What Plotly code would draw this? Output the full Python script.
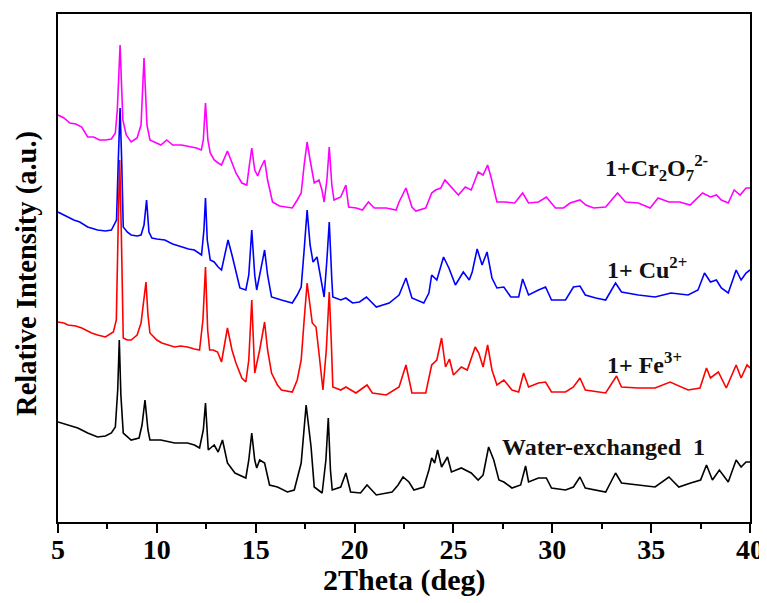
import plotly.graph_objects as go

# ---- data (2theta in deg, relative intensity in a.u.) ----
cr_x = [5.0,5.3,5.6,5.9,6.2,6.5,6.8,7.1,7.4,7.7,7.9,8.0,8.14,8.28,8.45,8.7,9.0,9.2,9.35,9.5,9.65,9.9,10.2,10.5,10.8,11.25,11.7,12.0,12.25,12.35,12.46,12.58,12.7,12.9,13.1,13.27,13.57,13.8,14.0,14.3,14.55,14.68,14.8,14.95,15.1,15.25,15.45,15.6,15.85,16.2,16.6,16.85,17.1,17.3,17.45,17.6,17.75,17.96,18.2,18.35,18.46,18.6,18.72,18.85,18.96,19.3,19.56,19.7,20.08,20.4,20.7,21.0,21.6,22.1,22.25,22.6,22.9,23.1,23.6,23.9,24.1,24.36,24.57,24.9,25.25,25.6,25.9,26.25,26.5,26.73,26.9,27.2,27.6,28.1,28.5,28.8,29.3,29.7,30.16,30.57,30.9,31.4,31.7,32.1,32.7,33.3,33.7,34.35,34.95,35.35,35.9,36.45,36.97,37.6,38.0,38.3,38.55,38.9,39.2,39.5,39.8,40.0]
cr_y = [407,404,399,398,395,385,385,382,382,383,389,412,477,402,387,380,384,397,464,397,382,380,377,382,377,377,375,374,372,382,419,382,369,362,359,357,371,360,349,339,337,357,374,352,346,354,362,342,320,316,315,314,322,329,357,380,362,339,342,332,320,342,375,337,322,325,337,315,314,312,320,314,314,312,320,334,315,311,314,329,332,334,342,335,327,335,332,350,347,357,345,320,320,319,329,319,320,325,314,314,319,322,317,314,315,329,320,319,314,324,320,320,317,329,325,327,322,319,332,327,334,334]

cu_x = [5.0,5.3,5.5,5.8,6.1,6.5,7.0,7.4,7.7,7.96,8.05,8.14,8.22,8.3,8.5,8.7,9.0,9.2,9.35,9.48,9.6,9.75,10.0,10.4,10.8,11.25,11.6,11.9,12.26,12.38,12.46,12.55,12.7,12.9,13.1,13.27,13.45,13.6,13.8,13.95,14.2,14.5,14.65,14.8,14.95,15.05,15.25,15.45,15.6,15.8,16.3,16.85,17.1,17.3,17.45,17.6,17.75,17.9,18.1,18.3,18.46,18.6,18.72,18.85,18.9,19.3,19.56,19.9,20.25,20.6,21.1,21.75,22.25,22.6,22.9,23.5,23.76,23.9,24.16,24.5,24.77,25.1,25.5,25.8,25.95,26.2,26.45,26.7,26.95,27.2,27.55,27.9,28.3,28.5,28.8,29.3,29.66,29.96,30.67,31.07,31.4,31.67,32.2,32.7,33.2,33.5,34.35,35.2,36.0,36.87,37.37,37.7,38.0,38.3,38.55,38.9,39.3,39.55,39.8,40.0]
cu_y = [310,307,305,302,300,295,292,291,292,302,362,414,362,295,290,287,286,287,297,322,290,284,283,282,278,275,273,272,267,292,324,282,262,260,255,252,267,282,267,255,234,232,247,292,247,232,252,272,247,225,222,219,227,235,272,312,277,260,265,242,225,262,300,242,225,222,224,219,220,225,215,219,227,244,224,219,229,247,242,265,254,237,250,242,250,273,257,270,244,234,235,225,225,243,227,232,235,222,222,235,236,227,224,222,239,230,227,225,229,227,232,249,240,242,234,229,252,242,249,252]

fe_x = [5.0,5.3,5.5,5.9,6.2,6.7,7.0,7.4,7.8,7.95,8.05,8.12,8.2,8.3,8.5,8.7,9.0,9.2,9.45,9.55,9.65,10.0,10.25,10.6,10.9,11.2,11.55,11.9,12.16,12.33,12.46,12.57,12.67,12.85,13.07,13.27,13.57,13.8,14.0,14.3,14.5,14.65,14.8,14.95,15.2,15.45,15.6,15.8,16.1,16.3,16.6,16.85,17.1,17.3,17.45,17.6,17.86,18.05,18.2,18.4,18.57,18.72,18.82,18.9,19.3,19.56,20.07,20.63,20.9,21.6,22.25,22.6,22.9,23.6,23.9,24.16,24.4,24.6,24.8,25.0,25.4,25.7,26.1,26.28,26.5,26.73,26.95,27.2,27.55,27.96,28.3,28.55,28.8,29.3,29.66,29.96,30.67,31.07,31.4,31.67,32.7,33.25,33.5,34.35,35.2,35.96,36.87,37.47,37.8,38.0,38.4,38.8,39.3,39.55,39.85,40.0]
fe_y = [200,199,197,196,194,189,187,185,190,202,302,362,292,184,182,182,187,199,240,207,189,182,179,177,175,176,175,173,172,202,255,192,172,172,170,160,194,172,159,144,140,162,222,149,172,200,172,149,137,132,131,130,142,162,202,239,199,195,169,132,172,230,182,135,132,135,129,137,129,127,135,157,129,129,157,162,184,155,163,147,155,152,175,169,155,177,152,137,142,132,130,149,135,139,140,130,130,135,144,132,129,146,135,134,134,140,132,134,154,144,150,134,157,144,157,154]

w_x = [5.0,5.5,6.0,6.2,6.5,7.0,7.4,7.7,7.9,8.02,8.1,8.18,8.3,8.7,9.1,9.25,9.4,9.55,9.65,10.2,10.5,10.9,11.55,11.9,12.16,12.35,12.46,12.55,12.6,12.9,13.1,13.32,13.57,13.95,14.5,14.65,14.8,14.95,15.05,15.2,15.45,15.7,16.1,16.6,16.95,17.3,17.55,17.8,17.96,18.36,18.55,18.67,18.78,18.87,19.3,19.56,19.8,20.3,20.63,21.1,21.9,22.2,22.45,22.75,23.0,23.5,23.76,23.9,24.05,24.2,24.4,24.7,24.9,25.4,25.9,26.25,26.5,26.78,27.04,27.3,27.55,27.96,28.4,28.65,28.8,29.3,29.7,29.96,30.67,31.07,31.4,31.67,32.7,33.2,33.5,34.35,35.2,35.9,36.4,37.0,37.5,37.8,38.1,38.45,38.9,39.3,39.55,39.8,40.0]
w_y = [100,97,94,92,89,85,86,89,95,132,182,127,89,82,84,97,122,92,82,82,81,79,79,77,74,92,119,82,72,77,70,82,59,49,44,62,89,62,54,62,59,37,35,30,32,59,117,75,35,29,62,104,52,32,35,49,30,29,37,27,30,37,45,40,32,35,52,64,59,72,55,65,50,54,49,42,47,75,62,42,40,34,37,56,40,44,44,34,32,35,45,34,30,49,39,37,35,45,35,39,42,57,42,52,40,62,55,60,60]

x_ticks = [5, 10, 15, 20, 25, 30, 35, 40]

series = [
    ("Water-exchanged  1", w_x, w_y, "#000000"),
    ("1+ Fe<sup>3+</sup>", fe_x, fe_y, "#FF0000"),
    ("1+ Cu<sup>2+</sup>", cu_x, cu_y, "#0000FF"),
    ("1+Cr<sub>2</sub>O<sub>7</sub><sup>2-</sup>", cr_x, cr_y, "#FF00FF"),
]

FONT = "Liberation Serif"

fig = go.Figure()
for name, xs, ys, col in series:
    fig.add_trace(go.Scatter(x=xs, y=ys, mode="lines", name=name,
                             line=dict(color=col, width=1.6), showlegend=False))

labels = [
    ("1+Cr<sub>2</sub>O<sub>7</sub><sup>2-</sup>", 32.55, 354),
    ("1+ Cu<sup>2+</sup>", 32.65, 254),
    ("1+ Fe<sup>3+</sup>", 32.65, 159),
    ("Water-exchanged  1", 27.35, 75),
]
for txt, ax, ay in labels:
    fig.add_annotation(x=ax, y=ay, xref="x", yref="y", text="<b>" + txt + "</b>",
                       showarrow=False, xanchor="left", yanchor="middle",
                       font=dict(family=FONT, size=24, color="#111111"))

# axis titles
fig.add_annotation(x=0.5, y=-0.114, xref="paper", yref="paper", text="<b>2Theta (deg)</b>",
                   showarrow=False, xanchor="center", yanchor="middle",
                   font=dict(family=FONT, size=30, color="black"))
fig.add_annotation(x=-0.045, y=0.49, xref="paper", yref="paper", text="<b>Relative Intensity (a.u.)</b>",
                   showarrow=False, xanchor="center", yanchor="middle", textangle=-90,
                   font=dict(family=FONT, size=28.5, color="black"))

# the page adds an 8 px body margin, so the figure is sized/margined to land on the reference frame
fig.update_layout(
    width=759, height=595,
    margin=dict(l=50, r=17, t=6, b=81),
    paper_bgcolor="white", plot_bgcolor="white",
    font=dict(family=FONT, color="black"),
    xaxis=dict(range=[5, 40], tickvals=x_ticks, ticktext=[f"<b>{v}</b>" for v in x_ticks],
               ticks="outside", ticklen=9, tickwidth=1.5, tickcolor="black",
               minor=dict(dtick=2.5, ticks="outside", ticklen=5, tickwidth=1.5, tickcolor="black"),
               showline=True, linecolor="black", linewidth=1.5, mirror=True,
               showgrid=False, zeroline=False, automargin=False, ticklabelstandoff=-7,
               tickfont=dict(family=FONT, size=28, color="black")),
    yaxis=dict(range=[0, 508], showticklabels=False, ticks="",
               showline=True, linecolor="black", linewidth=1.5, mirror=True,
               showgrid=False, zeroline=False, automargin=False),
)

fig.write_html("out.html")
